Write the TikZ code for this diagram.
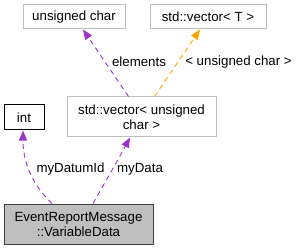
\documentclass[tikz,border=0pt]{standalone}
\usepackage{fontspec}
\setmainfont{Liberation Sans}
\usepackage{tikz}
\usepackage{xcolor}
\usetikzlibrary{arrows.meta,positioning,calc}
\definecolor{Orchid}{HTML}{9A32CD}
\definecolor{Amber}{HTML}{FFA500}
\definecolor{Silver}{HTML}{BFBFBF}
\definecolor{Graphite}{HTML}{404040}
\tikzset{
    every node/.style={font=\fontsize{13.3}{15}\selectfont, text=black},
    classbox/.style={
        draw=Silver, fill=white, line width=1pt,
        minimum width=#1, minimum height=24pt,
        align=center, sharp corners, inner sep=0pt
    },
    typebox/.style={
        draw=black, fill=white, line width=1pt,
        minimum width=40pt, minimum height=25pt,
        inner sep=0pt
    },
    mainbox/.style={
        draw=Graphite, fill=Silver, line width=1pt,
        minimum width=149pt, minimum height=40pt,
        align=center, sharp corners, inner sep=0pt
    },
    usearrow/.style={
        -{Triangle[length=10pt,width=8pt]}, line width=0.9pt,
        dash pattern=on 5pt off 4pt, color=Orchid
    },
    tmplarrow/.style={
        -{Triangle[length=10pt,width=8pt]}, line width=0.9pt,
        dash pattern=on 5pt off 4pt, color=Amber
    },
}
\begin{document}
\begin{tikzpicture}[x=1pt,y=-1pt]
    \useasboundingbox (0,0) rectangle (297,251);

    % Classes
    \node[classbox=102pt] (uchar) at (74,17) {unsigned char};
    \node[classbox=116pt] (vecT) at (208,17) {std::vector< T >};
    \node[typebox] (intbox) at (24,117.5) {int};
    \node[classbox=149pt, minimum height=40pt] (vecuchar) at (141.5,117) {std::vector< unsigned\\char >};
    \node[mainbox] (evdata) at (78.5,224) {EventReportMessage\\::VariableData};

    % Members of the vector
    \draw[usearrow] ($(vecuchar.north)+(-13,0)$) -- ($(uchar.south)+(9,0)$);
    \node (elemlbl) at (139,62) {elements};
    \draw[tmplarrow] ($(vecuchar.north)+(13,0)$) -- ($(vecT.south)+(-8,0)$);
    \node (tmpllbl) at (238.5,62) {< unsigned char >};

    % Members of VariableData
    \draw[usearrow] ($(evdata.north)+(-26.5,0)$) .. controls (34,186) and (23,165) .. ($(intbox.south)+(-1,0)$);
    \node (idlbl) at (70.5,169) {myDatumId};
    \draw[usearrow] ($(evdata.north)+(14.5,0)$) .. controls (104,184) and (118,160) .. ($(vecuchar.south)+(-11.5,0)$);
    \node (datalbl) at (140,169) {myData};
\end{tikzpicture}
\end{document}
